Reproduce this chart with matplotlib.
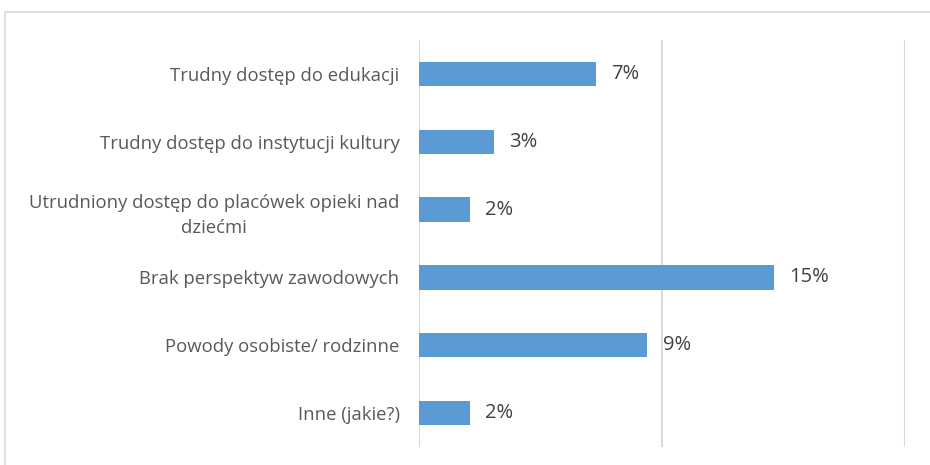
import matplotlib.pyplot as plt
from matplotlib.patches import Rectangle

categories = [
    "Trudny dostęp do edukacji",
    "Trudny dostęp do instytucji kultury",
    "Utrudniony dostęp do placówek opieki nad\ndziećmi",
    "Brak perspektyw zawodowych",
    "Powody osobiste/ rodzinne",
    "Inne (jakie?)",
]
values = [7.3, 3.1, 2.1, 14.6, 9.4, 2.1]
value_labels = ["7%", "3%", "2%", "15%", "9%", "2%"]

plt.rcParams["font.family"] = ["Open Sans", "DejaVu Sans"]

fig = plt.figure(figsize=(9.3, 4.65), dpi=100)
ax = fig.add_axes([0.4505, 0.0387, 0.5225, 0.8753])

# outer chart frame
fig.patches.append(Rectangle((5 / 930, -0.1), 1.0, 1.0 - 12 / 465 + 0.1,
                             transform=fig.transFigure, fill=False,
                             edgecolor="#d9d9d9", linewidth=1.2))

y = list(range(len(categories)))
ax.barh(y, values, height=0.36, color="#5b9bd5", zorder=3)

for yi, v, lab in zip(y, values, value_labels):
    ax.annotate(lab, (v, yi), xytext=(11, 0), textcoords="offset points",
                va="center", ha="left", fontsize=14.5, color="#404040")

ax.set_xlim(0, 20)
ax.set_ylim(len(categories) - 0.5, -0.5)
ax.set_yticks(y)
ax.set_yticklabels(categories, fontsize=13.3, color="#595959",
                   multialignment="center", linespacing=1.55)
ax.tick_params(axis="y", length=0, pad=14)
ax.set_xticks([0, 10, 20])
ax.set_xticklabels([])
ax.tick_params(axis="x", length=0)
ax.grid(axis="x", color="#d9d9d9", linewidth=1.5, zorder=0)
for s in ax.spines.values():
    s.set_visible(False)

fig.savefig("out.png", dpi=100)
